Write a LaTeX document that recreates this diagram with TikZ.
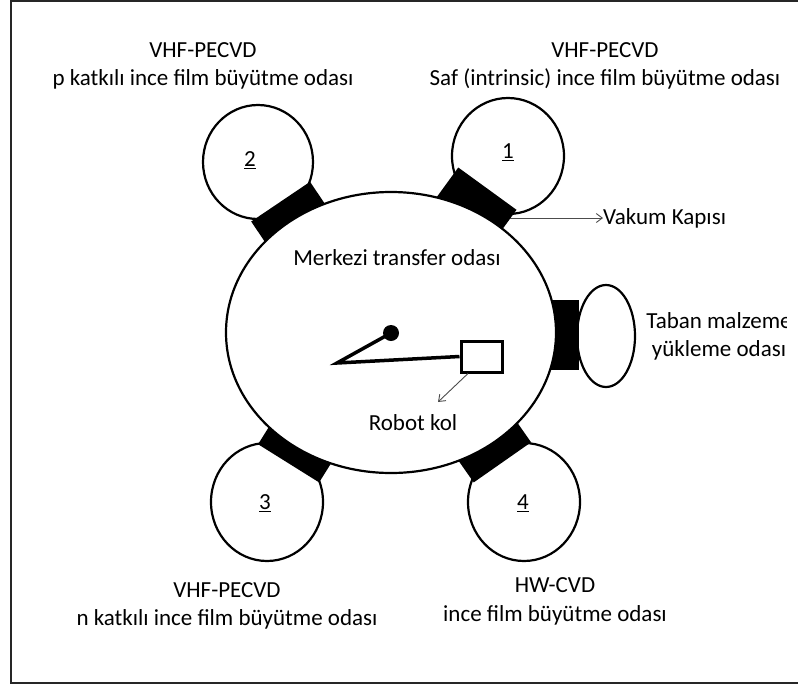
\documentclass[tikz,border=0pt]{standalone}
\usepackage{fontspec}
\setmainfont{Carlito}
\usetikzlibrary{shapes.geometric,arrows.meta}

\tikzset{
  chamber/.style={ellipse,draw,line width=2.2pt,fill=white,inner sep=0pt},
  door/.style={rectangle,fill=black,inner sep=0pt,anchor=east,minimum width=45pt},
  lbl/.style={font=\fontsize{23}{28.5}\selectfont,align=center,inner sep=0pt},
  arm/.style={line width=3.5pt,line join=miter},
  pointer/.style={-{Straight Barb[length=6pt,width=9pt]},black!70,line width=0.9pt}
}

\begin{document}
\begin{tikzpicture}[x=1pt,y=-1pt]
\useasboundingbox (0,0) rectangle (798,689);
\draw[line width=2pt,black!85] (800,1) -| (11,683) -- (800,683);

% side chambers
\node[chamber,minimum width=112pt,minimum height=116pt] (ch1) at (508,156) {};
\node[chamber,minimum width=110pt,minimum height=114pt] (ch2) at (258,162) {};
\node[chamber,minimum width=112pt,minimum height=118pt] (ch3) at (267,502) {};
\node[chamber,minimum width=112pt,minimum height=118pt] (ch4) at (524,502) {};
\node[chamber,minimum width=58pt,minimum height=102pt] (load) at (606,336) {};

% vacuum doors
\node[door,minimum height=72pt,rotate=54] (d1) at (487.5,188.5) {};
\node[door,minimum height=71pt,rotate=124] (d2) at (280.5,201.5) {};
\node[door,minimum height=72pt,rotate=238] (d3) at (288.5,463.5) {};
\node[door,minimum height=70pt,rotate=305] (d4) at (502.5,462.5) {};
\node[door,minimum height=70pt] (d5) at (579,335) {};

% central chamber
\node[chamber,minimum width=330pt,minimum height=281pt] (main) at (391,332.5) {};
\node[lbl] (mainlbl) at (397,258) {Merkezi transfer odası};

% robot arm
\node[circle,fill=black,inner sep=0pt,minimum size=16pt] (pivot) at (391,333) {};
\coordinate (elbow) at (337,363);
\node[draw,line width=3pt,fill=white,minimum width=41pt,minimum height=31pt,inner sep=0pt] (grip) at (481.5,356.5) {};
\draw[arm] (pivot.center) -- (elbow) -- (grip.west);
\node[lbl] (robot) at (413,423) {Robot kol};
\coordinate (robotend) at (438,402);
\draw[pointer] ([xshift=-13.5pt]grip.south) -- (robotend);

% numbers
\node[lbl] (n1) at (508,152) {\underline{1}};
\node[lbl] (n2) at (250,160) {\underline{2}};
\node[lbl] (n3) at (265,503) {\underline{3}};
\node[lbl] (n4) at (523,503) {\underline{4}};

% chamber names
\node[lbl] (t1) at (605,66) {VHF-PECVD\\Saf (intrinsic) ince film büyütme odası};
\node[lbl] (t2) at (203,66) {VHF-PECVD\\p katkılı ince film büyütme odası};
\node[lbl] (t3) at (227,606) {VHF-PECVD\\n katkılı ince film büyütme odası};
\node[lbl] (t4) at (555,601.5) {HW-CVD\\ince film büyütme odası};
\begin{scope}
\clip (620,290) rectangle (786,380);
\node[lbl] (t5) at (719,336.5) {Taban malzeme\\yükleme odası};
\end{scope}

% door pointer
\node[lbl,anchor=west] (vakum) at (603,218) {Vakum Kapısı};
\coordinate (doorside) at (510,218);
\draw[pointer] (doorside) -- (vakum.west);
\end{tikzpicture}
\end{document}
